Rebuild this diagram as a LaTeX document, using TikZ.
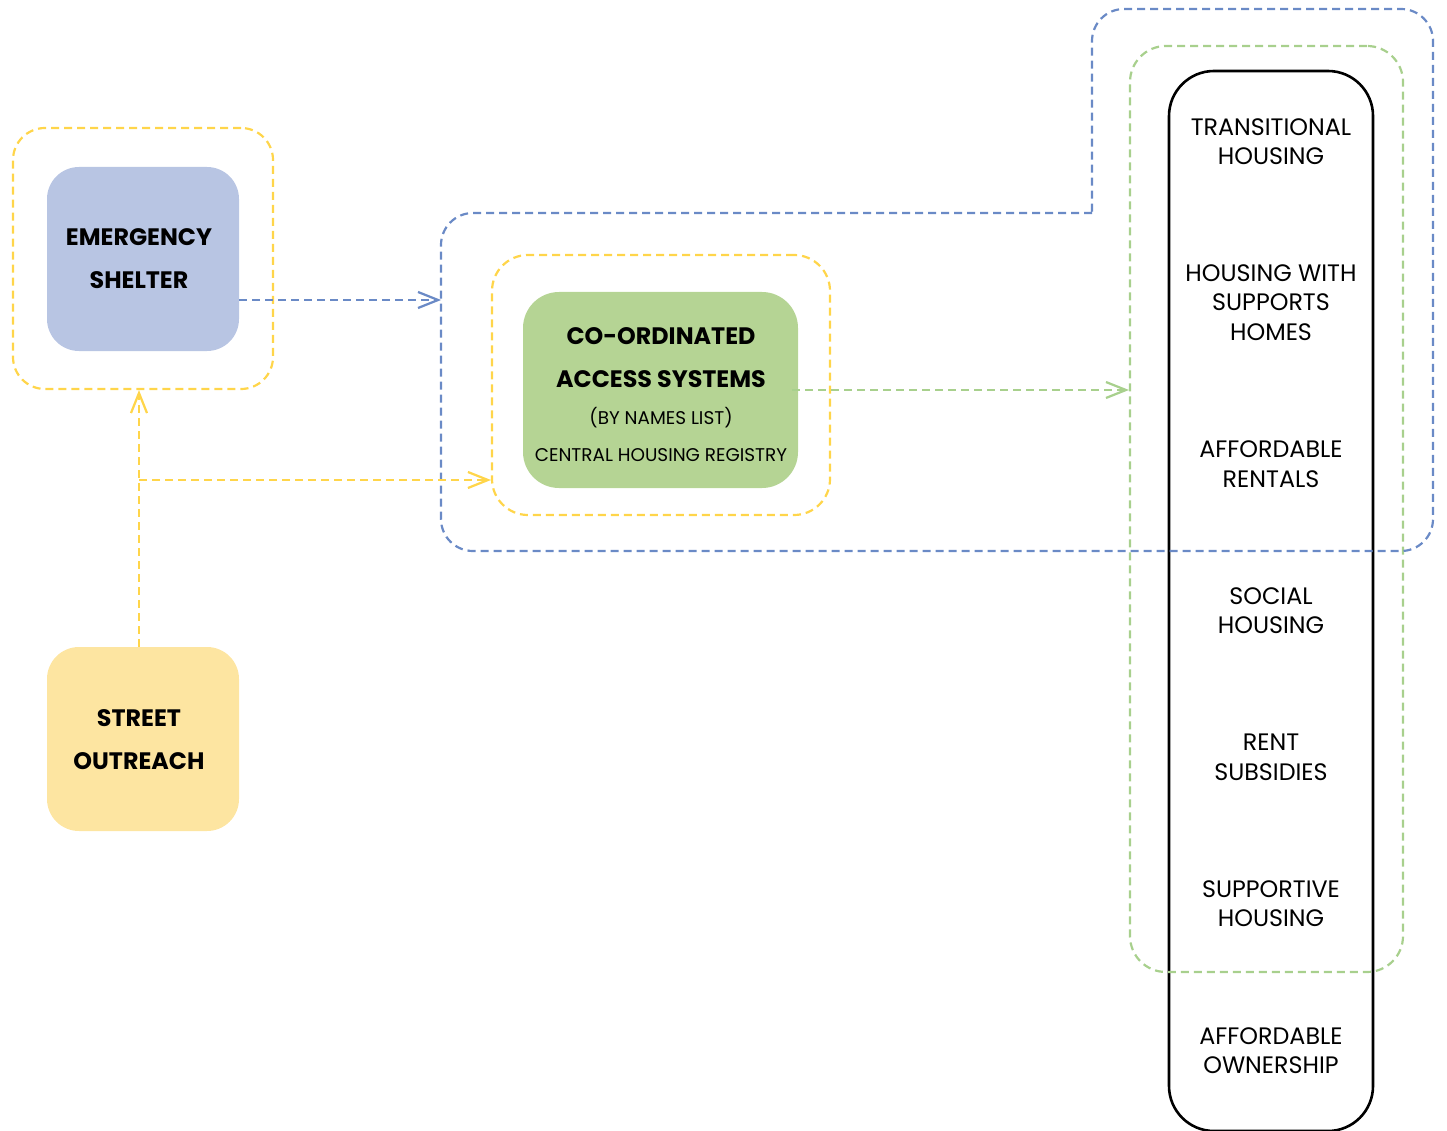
\documentclass[tikz,border=0pt]{standalone}
\usepackage{fontspec}
\setmainfont{Poppins}
\usetikzlibrary{arrows.meta}

\definecolor{shelterfill}{HTML}{B8C5E3}
\definecolor{outreachfill}{HTML}{FDE5A1}
\definecolor{casfill}{HTML}{B5D494}
\definecolor{yeldash}{HTML}{FFD54A}
\definecolor{bluedash}{HTML}{6A8AC6}
\definecolor{greendash}{HTML}{A8D08D}

\tikzset{
  dashline/.style={line width=2.2pt, dash pattern=on 8pt off 5pt},
  barb/.style={-{Straight Barb[length=20pt,width=16pt,line width=2.2pt]}},
  solidbox/.style={inner sep=0pt, align=center, rounded corners=32pt},
  frame/.style={dashline, inner sep=0pt, rounded corners=32pt},
  boldlabel/.style={align=center, inner sep=0pt, font=\fontsize{23.8}{43}\selectfont\bfseries},
  smalllabel/.style={align=center, inner sep=0pt, font=\fontsize{18.4}{22}\selectfont},
  colabel/.style={align=center, inner sep=0pt, font=\fontsize{23.8}{29.5}\selectfont},
}

\begin{document}
\begin{tikzpicture}[x=1pt, y=-1pt]
\useasboundingbox (0,0) rectangle (1447,1131);

% housing options column and the frames around it
\node[draw, line width=2.6pt, rounded corners=45pt, minimum width=204pt, minimum height=1060pt] (column) at (1271,601) {};
\node[frame, draw=greendash, minimum width=273pt, minimum height=926pt, rounded corners=36pt] (gframe) at (1266.5,509) {};

% blue region around the access system and the upper housing options
\draw[dashline, draw=bluedash, rounded corners=32pt]
  (1092,213) -- (441,213) -- (441,551) -- (1433,551) -- (1433,9) -- (1092,9) -- (1092,213);

% yellow frames
\node[frame, draw=yeldash, minimum width=260pt, minimum height=261pt] (esf) at (143,258.5) {};
\node[frame, draw=yeldash, minimum width=338pt, minimum height=260pt, rounded corners=36pt] (casf) at (661,385) {};

% filled boxes
\node[solidbox, fill=shelterfill, minimum width=192pt, minimum height=184pt] (es) at (143,259) {};
\node[boldlabel] (estext) at (139,258.5) {EMERGENCY\\SHELTER};

\node[solidbox, fill=outreachfill, minimum width=192pt, minimum height=184pt] (so) at (143,739) {};
\node[boldlabel] (sotext) at (139,739.5) {STREET\\OUTREACH};

\node[solidbox, fill=casfill, minimum width=275pt, minimum height=196pt, rounded corners=36pt] (cas) at (660.5,390) {};
\node[boldlabel] (castitle) at (661,358) {CO-ORDINATED\\ACCESS SYSTEMS};
\node[smalllabel] (casnames) at (661,418) {(BY NAMES LIST)};
\node[smalllabel] (casreg) at (661,455) {CENTRAL HOUSING REGISTRY};

% housing options
\node[colabel] (h1) at (1271,141.5) {TRANSITIONAL\\HOUSING};
\node[colabel] (h2) at (1271,302.5) {HOUSING WITH\\SUPPORTS\\HOMES};
\node[colabel] (h3) at (1271,464) {AFFORDABLE\\RENTALS};
\node[colabel] (h4) at (1271,610.5) {SOCIAL\\HOUSING};
\node[colabel] (h5) at (1271,757.5) {RENT\\SUBSIDIES};
\node[colabel] (h6) at (1271,903.5) {SUPPORTIVE\\HOUSING};
\node[colabel] (h7) at (1271,1050.5) {AFFORDABLE\\OWNERSHIP};

% connectors
\coordinate (bluein) at (441,300);
\coordinate (branch) at (139,480);
\draw[dashline, draw=bluedash, barb] (es.east |- bluein) -- (bluein);
\draw[dashline, draw=yeldash, barb] (so.north -| branch) -- (esf.south -| branch);
\draw[dashline, draw=yeldash, barb] (branch) -- (casf.west |- branch);
\draw[dashline, draw=greendash, barb] ([xshift=-6pt]cas.east) -- (gframe.west |- cas.east);

\end{tikzpicture}
\end{document}
